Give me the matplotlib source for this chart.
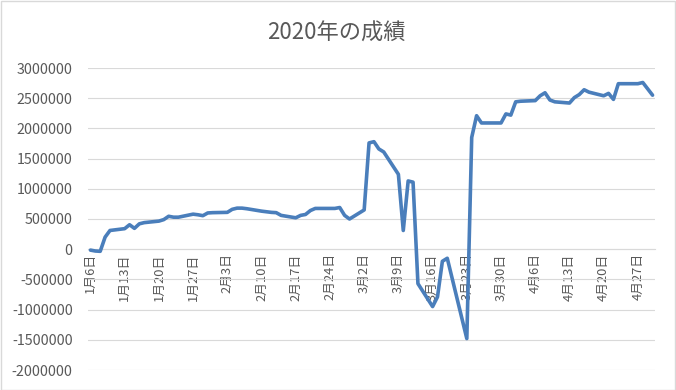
import datetime as dt
import matplotlib
matplotlib.use("Agg")
import matplotlib.pyplot as plt

plt.rcParams['font.family'] = ['Noto Sans CJK JP', 'DejaVu Sans']

title = "2020年の成績"

dates = [
    "2020-01-06", "2020-01-07", "2020-01-08", "2020-01-09", "2020-01-10",
    "2020-01-13", "2020-01-14", "2020-01-15", "2020-01-16", "2020-01-17",
    "2020-01-20", "2020-01-21", "2020-01-22", "2020-01-23", "2020-01-24",
    "2020-01-27", "2020-01-28", "2020-01-29", "2020-01-30", "2020-01-31",
    "2020-02-03", "2020-02-04", "2020-02-05", "2020-02-06", "2020-02-07",
    "2020-02-10", "2020-02-12", "2020-02-13", "2020-02-14",
    "2020-02-17", "2020-02-18", "2020-02-19", "2020-02-20", "2020-02-21",
    "2020-02-25", "2020-02-26", "2020-02-27", "2020-02-28",
    "2020-03-02", "2020-03-03", "2020-03-04", "2020-03-05", "2020-03-06",
    "2020-03-09", "2020-03-10", "2020-03-11", "2020-03-12", "2020-03-13",
    "2020-03-16", "2020-03-17", "2020-03-18", "2020-03-19",
    "2020-03-23", "2020-03-24", "2020-03-25", "2020-03-26", "2020-03-27",
    "2020-03-30", "2020-03-31", "2020-04-01", "2020-04-02", "2020-04-03",
    "2020-04-06", "2020-04-07", "2020-04-08", "2020-04-09", "2020-04-10",
    "2020-04-13", "2020-04-14", "2020-04-15", "2020-04-16", "2020-04-17",
    "2020-04-20", "2020-04-21", "2020-04-22", "2020-04-23", "2020-04-24",
    "2020-04-27", "2020-04-28", "2020-04-30",
]

values = [
    -15000, -30000, -35000, 200000, 310000,
    340000, 405000, 345000, 420000, 440000,
    465000, 490000, 545000, 530000, 530000,
    580000, 570000, 555000, 600000, 605000,
    610000, 660000, 680000, 680000, 670000,
    630000, 610000, 605000, 560000,
    520000, 560000, 575000, 640000, 675000,
    675000, 690000, 560000, 500000,
    650000, 1760000, 1780000, 1660000, 1610000,
    1240000, 310000, 1130000, 1110000, -570000,
    -950000, -790000, -200000, -150000,
    -1480000, 1850000, 2210000, 2090000, 2090000,
    2090000, 2240000, 2220000, 2440000, 2450000,
    2460000, 2540000, 2590000, 2470000, 2440000,
    2420000, 2510000, 2560000, 2640000, 2600000,
    2540000, 2580000, 2480000, 2740000, 2740000,
    2740000, 2760000, 2550000,
]

y_ticks = [-2000000, -1500000, -1000000, -500000, 0, 500000, 1000000,
           1500000, 2000000, 2500000, 3000000]
x_start = "2020-01-06"
x_end = "2020-04-30"
tick_step_days = 7

text_color = "#595959"
grid_color = "#d9d9d9"
line_color = "#4a7ebb"

W, H = 676, 390
fig = plt.figure(figsize=(W / 100, H / 100), dpi=100)
ax = fig.add_axes([88 / W, 1 - 370 / H, (655 - 88) / W, (370 - 68) / H])

x = [dt.datetime.strptime(d, "%Y-%m-%d") for d in dates]
ax.plot(x, values, color=line_color, lw=2.6, solid_joinstyle='round',
        solid_capstyle='round', zorder=3)

xs = dt.datetime.strptime(x_start, "%Y-%m-%d")
xe = dt.datetime.strptime(x_end, "%Y-%m-%d")
half = dt.timedelta(hours=12)
ax.set_xlim(xs - half, xe + half)
ax.set_ylim(y_ticks[0], y_ticks[-1])

ax.grid(axis='y', color=grid_color, lw=0.8, zorder=0)
ax.grid(axis='x', visible=False)
for s in ['top', 'right', 'left']:
    ax.spines[s].set_visible(False)
ax.spines['bottom'].set_position(('data', 0))
ax.spines['bottom'].set_color(grid_color)
ax.spines['bottom'].set_linewidth(0.8)
ax.tick_params(axis='both', length=0)
ax.tick_params(axis='x', pad=3, labelrotation=90)
ax.tick_params(axis='y', pad=11)

ticks = []
t = xs
while t <= xe:
    ticks.append(t)
    t += dt.timedelta(days=tick_step_days)
ax.set_xticks(ticks)
ax.set_xticklabels([f"{d.month}月{d.day}日" for d in ticks])
for lab in ax.get_xticklabels():
    lab.set_rotation(90)
    lab.set_ha('center')
    lab.set_va('top')
    lab.set_color(text_color)
    lab.set_fontsize(9.3)

ax.set_yticks(y_ticks)
ax.set_yticklabels([str(v) for v in y_ticks], color=text_color, fontsize=10.3)

fig.text(336 / W, 1 - 33 / H, title, ha='center', va='center',
         fontsize=16, color=text_color)

fig.patches.append(plt.Rectangle((0.5 / W, 0.5 / H), 1 - 1.5 / W, 1 - 1.5 / H,
                                 transform=fig.transFigure, fill=False,
                                 edgecolor=grid_color, lw=1))

fig.savefig("out.png", dpi=100)
